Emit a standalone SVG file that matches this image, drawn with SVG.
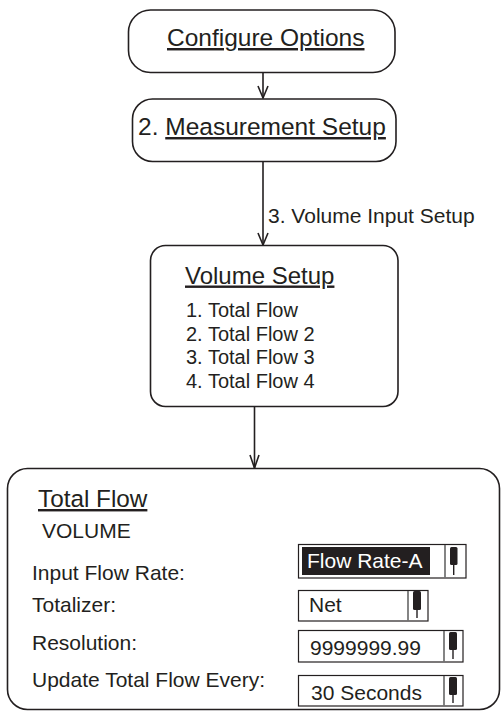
<svg xmlns="http://www.w3.org/2000/svg" width="501" height="711" viewBox="0 0 501 711">
<style>
text{font-family:"Liberation Sans",Arial,Helvetica,sans-serif;fill:#231f20}
.t{font-size:24.5px}
.s{font-size:21px}
.u{text-decoration:underline}
.box{fill:#fff;stroke:#231f20;stroke-width:1.6}
.dd{fill:#fff;stroke:#231f20;stroke-width:1.2}
.div{stroke:#666;stroke-width:1.6}
.icon{fill:#231f20}
.stem{stroke:#231f20;stroke-width:1.4}
.con{stroke:#231f20;stroke-width:1.6;fill:none}
</style>
<rect width="501" height="711" fill="#fff"/>
<g id="connectors">
<line class="con" x1="263" y1="72.5" x2="263" y2="98"/>
<polyline class="con" points="258,86 263,98 268,86"/>
<line class="con" x1="263" y1="162" x2="263" y2="245"/>
<polyline class="con" points="258,233 263,245 268,233"/>
<text class="s" x="268" y="223">3. Volume Input Setup</text>
<line class="con" x1="254.5" y1="406.5" x2="254.5" y2="468"/>
<polyline class="con" points="250,455 254.5,468 259,455"/>
</g>
<g id="configure-options">
<rect class="box" x="128.5" y="10" width="266.5" height="62.5" rx="22"/>
<text class="t u" x="167" y="46">Configure Options</text>
</g>
<g id="measurement-setup">
<rect class="box" x="132.5" y="99" width="263.5" height="62.5" rx="20"/>
<text class="t" x="138" y="135">2. <tspan class="u">Measurement Setup</tspan></text>
</g>
<g id="volume-setup">
<rect class="box" x="150.5" y="245.5" width="247.5" height="161" rx="15"/>
<text class="t u" x="185" y="283.5" style="font-size:24px">Volume Setup</text>
<text class="s" x="186" y="317" style="font-size:20px">1. Total Flow</text>
<text class="s" x="186" y="340.5" style="font-size:20px">2. Total Flow 2</text>
<text class="s" x="186" y="364" style="font-size:20px">3. Total Flow 3</text>
<text class="s" x="186" y="387.5" style="font-size:20px">4. Total Flow 4</text>
</g>
<g id="total-flow">
<rect class="box" x="7.5" y="468.5" width="492" height="241" rx="20"/>
<text class="t u" x="38" y="507" style="font-size:24.3px">Total Flow</text>
<text class="s" x="42" y="538">VOLUME</text>
<text class="s" x="32" y="580">Input Flow Rate:</text>
<text class="s" x="32" y="612">Totalizer:</text>
<text class="s" x="32" y="650">Resolution:</text>
<text class="s" x="32" y="687">Update Total Flow Every:</text>
<g id="dd-input-flow-rate">
<rect class="dd" x="298.5" y="544.5" width="167.5" height="33.5"/>
<rect x="302" y="547" width="128" height="28" fill="#231f20"/>
<text class="s" x="307" y="568" style="fill:#fff">Flow Rate-A</text>
<line class="div" x1="445" y1="545" x2="445" y2="577.5"/>
<rect class="icon" x="450" y="547" width="7.5" height="18" rx="1.5"/>
<line class="stem" x1="453.7" y1="564" x2="453.7" y2="575"/>
</g>
<g id="dd-totalizer">
<rect class="dd" x="298.5" y="590.5" width="129.5" height="30.5"/>
<text class="s" x="309" y="612">Net</text>
<line class="div" x1="408" y1="591" x2="408" y2="620.5"/>
<rect class="icon" x="413" y="591" width="8" height="19" rx="1.5"/>
<line class="stem" x1="417" y1="609" x2="417" y2="618"/>
</g>
<g id="dd-resolution">
<rect class="dd" x="298.5" y="630.5" width="164.5" height="31.5"/>
<text class="s" x="310" y="655">9999999.99</text>
<line class="div" x1="444" y1="631" x2="444" y2="661.5"/>
<rect class="icon" x="449" y="632" width="8" height="18" rx="1.5"/>
<line class="stem" x1="453" y1="649" x2="453" y2="659"/>
</g>
<g id="dd-update">
<rect class="dd" x="298.5" y="675.5" width="164.5" height="30.5"/>
<text class="s" x="311" y="700">30 Seconds</text>
<line class="div" x1="444" y1="676" x2="444" y2="705.5"/>
<rect class="icon" x="449" y="677" width="8" height="18" rx="1.5"/>
<line class="stem" x1="453" y1="694" x2="453" y2="703"/>
</g>
</g>
</svg>
